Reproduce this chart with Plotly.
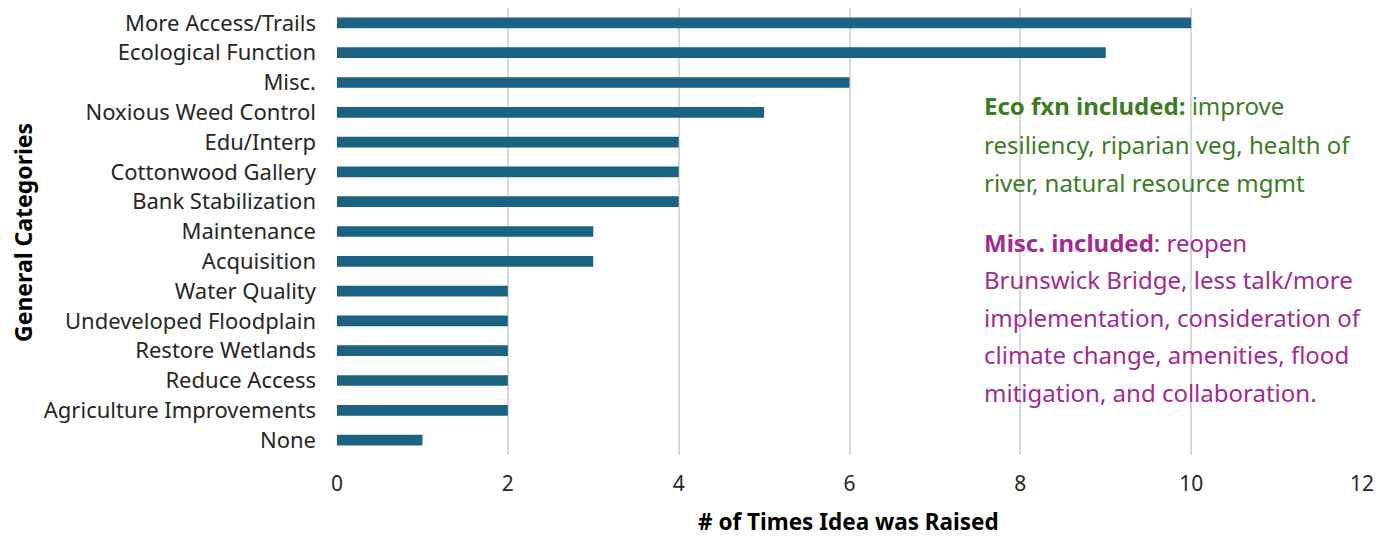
import plotly.graph_objects as go

categories = ["More Access/Trails", "Ecological Function", "Misc.", "Noxious Weed Control",
              "Edu/Interp", "Cottonwood Gallery", "Bank Stabilization", "Maintenance",
              "Acquisition", "Water Quality", "Undeveloped Floodplain", "Restore Wetlands",
              "Reduce Access", "Agriculture Improvements", "None"]
counts = [10, 9, 6, 5, 4, 4, 4, 3, 3, 2, 2, 2, 2, 2, 1]
x_ticks = [0, 2, 4, 6, 8, 10, 12]

eco_lines = ["<b>Eco fxn included:</b> improve",
             "resiliency, riparian veg, health of",
             "river, natural resource mgmt"]
misc_lines = ["<b>Misc. included</b>: reopen",
              "Brunswick Bridge, less talk/more",
              "implementation, consideration of",
              "climate change, amenities, flood",
              "mitigation, and collaboration."]

FONT = "Noto Sans"
OFF = 8  # page body margin
W, H = 1391 - OFF, 537 - OFF
ml, mr, mt, mb = 337 - OFF, 29, 8 - OFF, 82

fig = go.Figure(go.Bar(
    x=counts, y=categories, orientation="h",
    marker=dict(color="#1b6283", line=dict(width=0)),
    width=0.36,
))

fig.update_layout(
    width=W, height=H,
    margin=dict(l=ml, r=mr, t=mt, b=mb, autoexpand=False),
    plot_bgcolor="white", paper_bgcolor="white",
    showlegend=False,
    font=dict(family=FONT, size=22, color="#262626"),
    xaxis=dict(range=[0, 12], tickvals=x_ticks, showgrid=True, gridcolor="#d9d9d9",
               gridwidth=2, zeroline=False, showline=False, ticks="",
               ticklabelstandoff=14,
               tickfont=dict(size=21, color="#262626")),
    yaxis=dict(categoryorder="array", categoryarray=categories,
               range=[14.5, -0.5], showgrid=False, zeroline=False, showline=False, ticks="",
               ticklabelstandoff=20, tickfont=dict(size=22, color="#262626")),
)

ph = H - mt - mb
pw = W - ml - mr

def px2paper_x(px):
    return (px - OFF - ml) / pw

def px2paper_y(py):
    return (H - mb - (py - OFF)) / ph

fig.add_annotation(text="<b># of Times Idea was Raised</b>", xref="paper", yref="paper",
                   x=px2paper_x(848), y=px2paper_y(521), xanchor="center", yanchor="middle",
                   borderpad=0, showarrow=False, font=dict(family=FONT, size=22.5, color="#000"))
fig.add_annotation(text="<b>General Categories</b>", xref="paper", yref="paper",
                   x=px2paper_x(23), y=px2paper_y(233), xanchor="center", yanchor="middle",
                   borderpad=0, textangle=-90, showarrow=False,
                   font=dict(family=FONT, size=23, color="#000"))

for i, t in enumerate(eco_lines):
    fig.add_annotation(text=t, xref="paper", yref="paper", x=px2paper_x(982),
                       y=px2paper_y(106 + 38 * i), xanchor="left", yanchor="middle",
                       showarrow=False, font=dict(family=FONT, size=24, color="#3b7d23"))
for i, t in enumerate(misc_lines):
    fig.add_annotation(text=t, xref="paper", yref="paper", x=px2paper_x(982),
                       y=px2paper_y(242 + 37.5 * i), xanchor="left", yanchor="middle",
                       showarrow=False, font=dict(family=FONT, size=24, color="#a02b93"))

fig.write_html("out.html")
